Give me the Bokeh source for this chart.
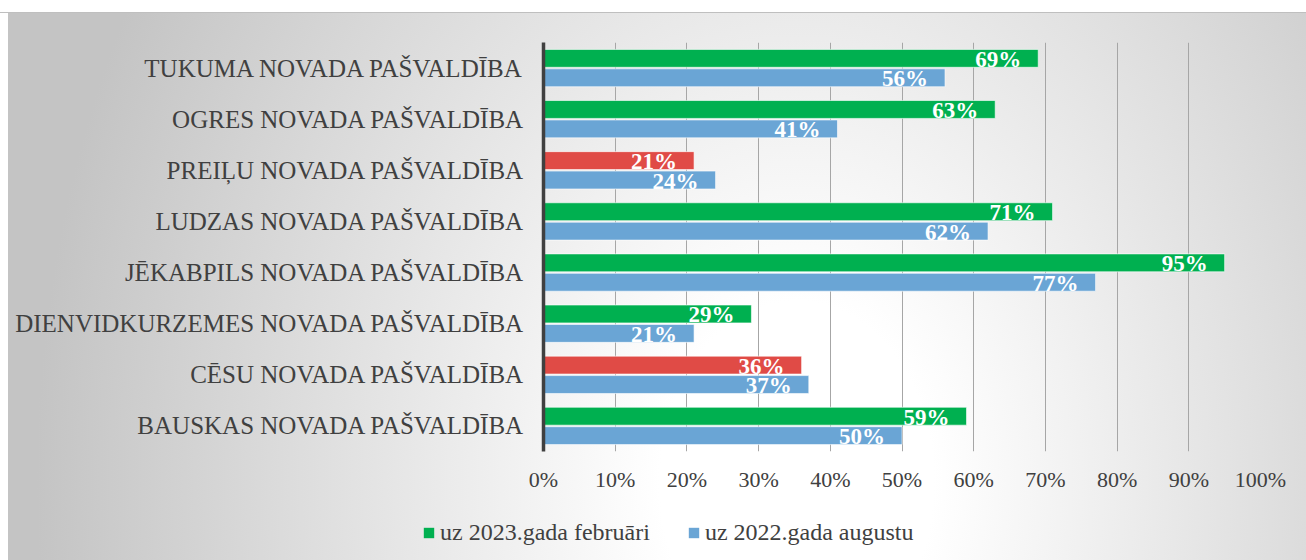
from bokeh.plotting import figure
from bokeh.layouts import column
from bokeh.models import (FactorRange, FixedTicker, NumeralTickFormatter, ColumnDataSource,
                          Legend, LegendItem, Range1d)
from bokeh.transform import dodge
from bokeh.core.properties import value
from bokeh.embed import file_html
from bokeh.resources import INLINE

# ---- data (top to bottom as shown) ----
categories = [
    "TUKUMA NOVADA PAŠVALDĪBA",
    "OGRES NOVADA PAŠVALDĪBA",
    "PREIĻU NOVADA PAŠVALDĪBA",
    "LUDZAS NOVADA PAŠVALDĪBA",
    "JĒKABPILS NOVADA PAŠVALDĪBA",
    "DIENVIDKURZEMES NOVADA PAŠVALDĪBA",
    "CĒSU NOVADA PAŠVALDĪBA",
    "BAUSKAS NOVADA PAŠVALDĪBA",
]
feb_2023 = [69, 63, 21, 71, 95, 29, 36, 59]
aug_2022 = [56, 41, 24, 62, 77, 21, 37, 50]
series_names = ["uz 2023.gada februāri", "uz 2022.gada augustu"]
x_ticks = [0, 10, 20, 30, 40, 50, 60, 70, 80, 90, 100]

GREEN = "#00b050"
RED = "#e04b46"
BLUE = "#6aa5d5"
TEXT = "#404040"
SERIF = "Liberation Serif"

feb_colors = [GREEN if f >= a else RED for f, a in zip(feb_2023, aug_2022)]

src = ColumnDataSource(dict(
    cat=categories,
    feb=[v / 100 for v in feb_2023],
    aug=[v / 100 for v in aug_2022],
    feb_lbl=[f"{v}%" for v in feb_2023],
    aug_lbl=[f"{v}%" for v in aug_2022],
    feb_color=feb_colors,
))

p = figure(width=1306, height=500,
           y_range=FactorRange(factors=categories[::-1]),
           x_range=Range1d(0, 1),
           output_backend="svg", toolbar_location=None,
           min_border_left=543, min_border_right=46,
           min_border_top=42, min_border_bottom=49)
p.frame_align = False
p.border_fill_color = None
p.background_fill_color = None
p.outline_line_color = None

OFF = 0.19
H = 0.35
r1 = p.hbar(y=dodge("cat", OFF, range=p.y_range), left=0, right="feb", height=H,
            fill_color="feb_color", line_color="white", line_alpha=0.6, line_width=1,
            source=src)
r2 = p.hbar(y=dodge("cat", -OFF, range=p.y_range), left=0, right="aug", height=H,
            fill_color=BLUE, line_color="white", line_alpha=0.6, line_width=1,
            source=src)

lbl_kw = dict(text_align="right", text_baseline="middle", x_offset=-17, y_offset=1,
              text_font=value(SERIF), text_font_style="bold", text_font_size="23px",
              text_color="white", source=src)
p.text(x="feb", y=dodge("cat", OFF, range=p.y_range), text="feb_lbl", **lbl_kw)
p.text(x="aug", y=dodge("cat", -OFF, range=p.y_range), text="aug_lbl", **lbl_kw)

# axes
p.xaxis.ticker = FixedTicker(ticks=[t / 100 for t in x_ticks])
p.xaxis.formatter = NumeralTickFormatter(format="0%")
p.xaxis.axis_line_color = None
p.xaxis.major_tick_line_color = None
p.xaxis.minor_tick_line_color = None
p.xaxis.major_label_standoff = 9
p.xaxis.major_label_text_font = SERIF
p.xaxis.major_label_text_font_size = "22px"
p.xaxis.major_label_text_color = TEXT

p.yaxis.axis_line_color = TEXT
p.yaxis.axis_line_width = 3.5
p.yaxis.major_tick_line_color = None
p.yaxis.minor_tick_line_color = None
p.yaxis.major_label_standoff = 13
p.yaxis.major_label_text_font = SERIF
p.yaxis.major_label_text_font_size = "25px"
p.yaxis.major_label_text_color = TEXT

p.xgrid.grid_line_color = "#a6a6a6"
p.xgrid.grid_line_width = 1
p.ygrid.grid_line_color = None

# ---- legend strip (separate transparent figure under the chart) ----
p2 = figure(width=1306, height=60, x_range=Range1d(0, 1), y_range=Range1d(0, 1),
            output_backend="svg", toolbar_location=None,
            x_axis_location=None, y_axis_location=None,
            min_border_left=0, min_border_right=0, min_border_top=0, min_border_bottom=0)
p2.frame_align = False
p2.border_fill_color = None
p2.background_fill_color = None
p2.outline_line_color = None
p2.xgrid.grid_line_color = None
p2.ygrid.grid_line_color = None
# legend swatches only (their data lie far outside the visible range)
lg1 = p2.hbar(y=[50], left=[50], right=[51], height=0.5, fill_color=GREEN, line_color=None)
lg2 = p2.hbar(y=[50], left=[50], right=[51], height=0.5, fill_color=BLUE, line_color=None)

legend = Legend(items=[
    LegendItem(label=series_names[0], renderers=[lg1]),
    LegendItem(label=series_names[1], renderers=[lg2]),
], orientation="horizontal", location=(422, 14),
    glyph_width=13, glyph_height=13, label_standoff=5, spacing=37,
    padding=0, margin=0, border_line_color=None, background_fill_alpha=0,
    label_text_font=SERIF, label_text_font_size="24px", label_text_color=TEXT,
    label_height=24)
p2.add_layout(legend)

layout = column(p, p2, spacing=0)
layout.styles = {
    "background": (
        "linear-gradient(to bottom, #ffffff 0px, #ffffff 12px, #bfbfbf 12px, #bfbfbf 13px, "
        "rgba(255,255,255,0) 13px), "
        "linear-gradient(to right, #ffffff 0px, #ffffff 8px, rgba(255,255,255,0) 8px), "
        "radial-gradient(ellipse 760px 1000px at 61% 86%, #ffffff 0%, #ffffff 18%, #c4c4c4 100%)"
    )
}

open("out.html", "w").write(file_html(layout, INLINE))
